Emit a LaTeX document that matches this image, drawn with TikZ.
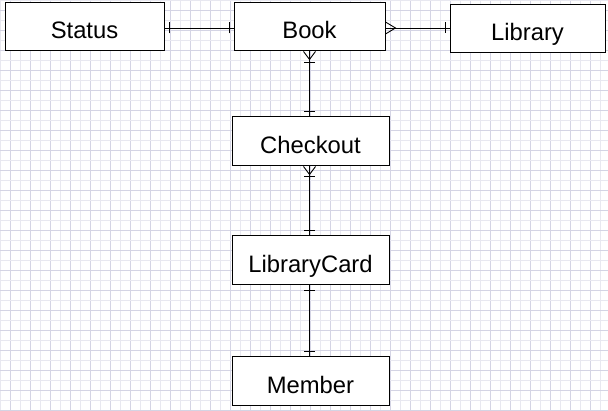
\documentclass[tikz,border=0pt]{standalone}
\usepackage{fontspec}
\setmainfont{Liberation Sans}
\begin{document}
\begin{tikzpicture}[x=1pt,y=-1pt,
  entity/.style={draw=black, line width=1pt, fill=white, inner sep=0pt,
    text height=24pt, text depth=0pt, minimum height=48pt,
    font=\fontsize{23.8}{28}\selectfont},
  conn/.style={draw=black, line width=0.9pt},
  gridminor/.style={draw={rgb,255:red,232;green,232;blue,240}, line width=0.6pt},
  gridmajor/.style={draw={rgb,255:red,212;green,212;blue,228}, line width=0.6pt}]
\useasboundingbox (0,0) rectangle (608,411);
\fill[white] (0,0) rectangle (608,411);
% background grid
\foreach \i in {0,20,...,600} {\draw[gridminor] (\i,0) -- (\i,411);}
\foreach \i in {10,30,...,600} {\draw[gridmajor] (\i,0) -- (\i,411);}
\foreach \j in {0,20,...,400} {\draw[gridminor] (0,\j) -- (608,\j);}
\foreach \j in {10,30,...,410} {\draw[gridmajor] (0,\j) -- (608,\j);}
% entities
\node[entity, minimum width=159pt] (status) at (84.5,27) {Status};
\node[entity, minimum width=151pt] (book) at (309.5,27) {Book};
\node[entity, minimum width=155pt] (library) at (527.5,29) {Library};
\node[entity, minimum width=157pt, minimum height=49pt] (checkout) at (310.5,141.5) {Checkout};
\node[entity, minimum width=157pt, minimum height=49pt] (card) at (310.5,260.5) {LibraryCard};
\node[entity, minimum width=157pt, minimum height=49pt] (member) at (310.5,381.5) {Member};
% Status -- Book (one to one)
\coordinate (statr) at ([yshift=-1pt]status.east);
\draw[conn] (statr) -- (statr -| book.west) coordinate (bookl);
\draw[conn] ([xshift=5pt,yshift=-5.5pt]statr) -- ([xshift=5pt,yshift=5.5pt]statr);
\draw[conn] ([xshift=-4pt,yshift=-5.5pt]bookl) -- ([xshift=-4pt,yshift=5.5pt]bookl);
% Book -- Library (many to one)
\coordinate (bookr) at ([yshift=-1pt]book.east);
\draw[conn] (bookr) -- (library.west |- bookr) coordinate (libl);
\draw[conn] ([yshift=6pt]bookr) -- ([xshift=10pt]bookr) -- ([yshift=-6pt]bookr);
\draw[conn] ([xshift=-4pt,yshift=5.5pt]libl) -- ([xshift=-4pt,yshift=-5.5pt]libl);
% Book -- Checkout (one-or-many to one)
\coordinate (bookb) at (book.south);
\draw[conn] (bookb) -- (bookb |- checkout.north) coordinate (chkt);
\draw[conn] ([xshift=-6pt]bookb) -- ([yshift=-8pt]bookb) -- ([xshift=6pt]bookb);
\draw[conn] ([xshift=-5.5pt,yshift=-11pt]bookb) -- ([xshift=5.5pt,yshift=-11pt]bookb);
\draw[conn] ([xshift=-5.5pt,yshift=5pt]chkt) -- ([xshift=5.5pt,yshift=5pt]chkt);
% Checkout -- LibraryCard
\coordinate (chkb) at ([xshift=-1pt]checkout.south);
\draw[conn] (chkb) -- (chkb |- card.north) coordinate (cardt);
\draw[conn] ([xshift=-6pt]chkb) -- ([yshift=-8pt]chkb) -- ([xshift=6pt]chkb);
\draw[conn] ([xshift=-5.5pt,yshift=-10pt]chkb) -- ([xshift=5.5pt,yshift=-10pt]chkb);
\draw[conn] ([xshift=-5.5pt,yshift=5pt]cardt) -- ([xshift=5.5pt,yshift=5pt]cardt);
% LibraryCard -- Member
\coordinate (cardb) at ([xshift=-1pt]card.south);
\draw[conn] (cardb) -- (cardb |- member.north) coordinate (memt);
\draw[conn] ([xshift=-5.5pt,yshift=-5pt]cardb) -- ([xshift=5.5pt,yshift=-5pt]cardb);
\draw[conn] ([xshift=-5.5pt,yshift=5pt]memt) -- ([xshift=5.5pt,yshift=5pt]memt);
\end{tikzpicture}
\end{document}
